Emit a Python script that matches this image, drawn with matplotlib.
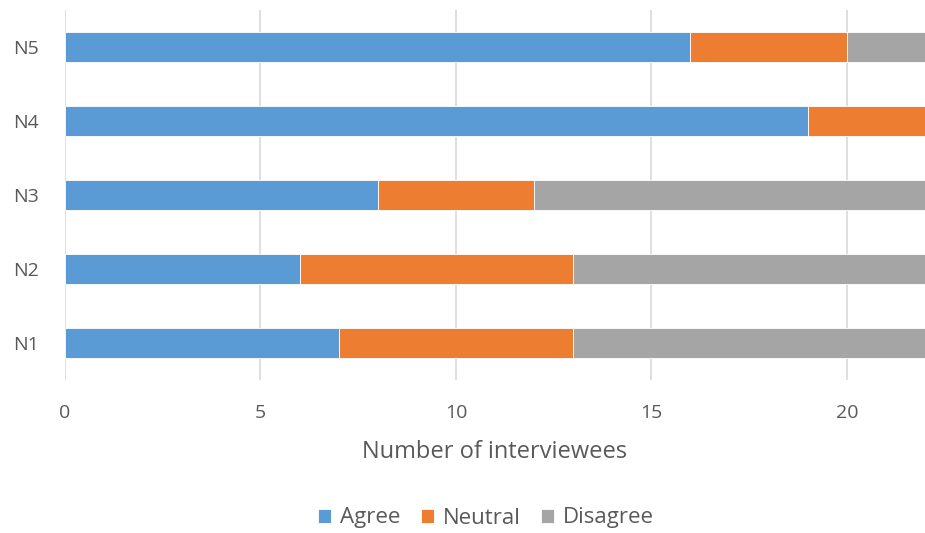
import matplotlib
matplotlib.use("Agg")
import matplotlib.pyplot as plt
import numpy as np

# Survey answers per statement
statements = ["N1", "N2", "N3", "N4", "N5"]
agree = [7, 6, 8, 19, 16]
neutral = [6, 7, 4, 3, 4]
disagree = [9, 9, 10, 0, 2]

colors = {"Agree": "#5b9bd5", "Neutral": "#ed7d31", "Disagree": "#a5a5a5"}
text_color = "#595959"

plt.rcParams["font.family"] = ["Open Sans", "DejaVu Sans"]

fig = plt.figure(figsize=(9.25, 5.33), dpi=100)
ax = fig.add_axes([65 / 925, 1 - 380 / 533, 1 - 65 / 925, 370 / 533])

y = np.arange(len(statements))
left = np.zeros(len(statements))
for name, vals in [("Agree", agree), ("Neutral", neutral), ("Disagree", disagree)]:
    ax.barh(y, vals, left=left, height=0.4, color=colors[name], label=name,
            edgecolor="white", linewidth=0.6, zorder=3)
    left += np.array(vals)

ax.set_xlim(0, 22)
ax.set_ylim(-0.5, 4.5)
ax.set_xticks([0, 5, 10, 15, 20])
ax.set_yticks(y)
ax.set_yticklabels(statements)
ax.grid(axis="x", color="#d9d9d9", linewidth=1.2, zorder=0)
for s in ax.spines.values():
    s.set_visible(False)
ax.tick_params(axis="both", length=0, labelsize=14, labelcolor=text_color)
ax.tick_params(axis="x", pad=17)
ax.tick_params(axis="y", pad=19)
ax.set_xlabel("Number of interviewees", fontsize=17, color=text_color, labelpad=13)

ax.legend(loc="center", bbox_to_anchor=(486 / 925, 1 - 518 / 533), bbox_transform=fig.transFigure,
          ncol=3, frameon=False, fontsize=16, labelcolor=text_color,
          handlelength=0.6, handleheight=0.6, handletextpad=0.4, columnspacing=0.9)

fig.savefig("out.png", dpi=100)
